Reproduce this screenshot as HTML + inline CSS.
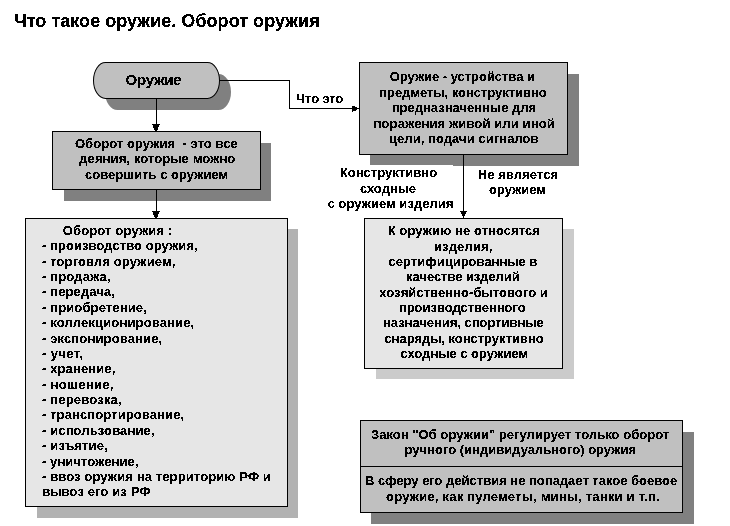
<!DOCTYPE html>
<html><head><meta charset="utf-8">
<style>
html,body{margin:0;padding:0;background:#fff;}
body{width:730px;height:526px;position:relative;overflow:hidden;font-family:"Liberation Sans",sans-serif;font-weight:bold;color:#000;}
.s{position:absolute;}
.k{position:absolute;border:1px solid #000;box-sizing:border-box;}
.x{position:absolute;white-space:pre;line-height:20px;}
.a{font-size:13px}.b{font-size:15px}.h{font-size:18px}
.l{position:absolute;background:#000;}
svg{position:absolute;left:0;top:0;}
</style></head><body>
<!-- shadows -->
<div class="s" style="left:105px;top:74px;width:126px;height:36px;background:#808080;border-radius:12.5px/18px;"></div>
<div class="s" style="left:64px;top:143px;width:207px;height:58px;background:#808080;"></div>
<div class="s" style="left:37px;top:229px;width:261px;height:289px;background:#b2b2b2;"></div>
<div class="s" style="left:370px;top:74px;width:209px;height:92px;background:#808080;"></div>
<div class="s" style="left:370px;top:165px;width:83px;height:1px;background:#fff;"></div>
<div class="s" style="left:376px;top:229px;width:198px;height:150px;background:#cbcbcb;"></div>
<div class="s" style="left:371px;top:432px;width:323px;height:92px;background:#808080;"></div>
<!-- boxes -->
<div class="k" style="left:93px;top:62px;width:127px;height:37px;background:#c0c0c0;border-radius:12.5px/18.5px;"></div>
<div class="k" style="left:52px;top:131px;width:209px;height:59px;background:#c0c0c0;"></div>
<div class="k" style="left:25px;top:218px;width:263px;height:289px;background:#e6e6e6;"></div>
<div class="k" style="left:359px;top:62px;width:209px;height:93px;background:#c0c0c0;"></div>
<div class="k" style="left:364px;top:218px;width:199px;height:151px;background:#e6e6e6;"></div>
<div class="k" style="left:360px;top:420px;width:323px;height:93px;background:#c0c0c0;"></div>
<div class="l" style="left:360px;top:466px;width:323px;height:1px;"></div>
<!-- connectors -->
<div class="l" style="left:156px;top:98px;width:1px;height:33px;"></div>
<div class="l" style="left:156px;top:189px;width:1px;height:29px;"></div>
<div class="l" style="left:219px;top:80px;width:71px;height:1px;"></div>
<div class="l" style="left:289px;top:80px;width:1px;height:29px;"></div>
<div class="l" style="left:289px;top:108px;width:70px;height:1px;"></div>
<div class="l" style="left:463px;top:154px;width:1px;height:64px;"></div>
<svg width="730" height="526" viewBox="0 0 730 526" shape-rendering="crispEdges">
<polygon points="152,124 160,124 157,131 155,131"/>
<polygon points="152,211 160,211 157,218 155,218"/>
<polygon points="460,211 467,211 463.5,218"/>
<polygon points="352,106 352,112 357,110 357,107"/>
</svg>
<!-- text -->
<svg width="0" height="0" style="position:absolute"><filter id="t" x="0" y="0" width="100%" height="100%" color-interpolation-filters="sRGB"><feComponentTransfer><feFuncA type="discrete" tableValues="0 0 1 1 1"/></feComponentTransfer></filter></svg>
<div id="tl" style="position:absolute;left:0;top:0;width:730px;height:526px;filter:url(#t);">
<div class="x h" style="left:14.0px;top:10.6px;letter-spacing:0.04px">Что такое оружие. Оборот оружия</div>
<div class="x b" style="left:125.6px;top:69.8px;letter-spacing:-0.28px">Оружие</div>
<div class="x a" style="left:296.1px;top:88.7px;letter-spacing:-0.133px">Что это</div>
<div class="x a" style="left:74.9px;top:133.9px;letter-spacing:0.053px">Оборот оружия  - это все</div>
<div class="x a" style="left:79.2px;top:149.4px;letter-spacing:0.11px">деяния, которые можно</div>
<div class="x a" style="left:85.0px;top:165.0px;letter-spacing:0.022px">совершить с оружием</div>
<div class="x a" style="left:62.7px;top:221.0px;letter-spacing:0.157px">Оборот оружия :</div>
<div class="x a" style="left:42.0px;top:236.37px;letter-spacing:0.067px">- производство оружия,</div>
<div class="x a" style="left:42.0px;top:251.74px;letter-spacing:0.123px">- торговля оружием,</div>
<div class="x a" style="left:42.0px;top:267.11px;letter-spacing:0.156px">- продажа,</div>
<div class="x a" style="left:42.0px;top:282.48px;letter-spacing:0.12px">- передача,</div>
<div class="x a" style="left:42.0px;top:297.85px;letter-spacing:0.129px">- приобретение,</div>
<div class="x a" style="left:42.0px;top:313.22px;letter-spacing:0.14px">- коллекционирование,</div>
<div class="x a" style="left:42.0px;top:328.59px;letter-spacing:0.137px">- экспонирование,</div>
<div class="x a" style="left:42.0px;top:343.96px;letter-spacing:0.4px">- учет,</div>
<div class="x a" style="left:42.0px;top:359.33px;letter-spacing:0.12px">- хранение,</div>
<div class="x a" style="left:42.0px;top:374.7px;letter-spacing:0.333px">- ношение,</div>
<div class="x a" style="left:42.0px;top:390.07px;letter-spacing:0.181px">- перевозка,</div>
<div class="x a" style="left:42.0px;top:405.44px;letter-spacing:0.105px">- транспортирование,</div>
<div class="x a" style="left:42.0px;top:420.81px;letter-spacing:0.12px">- использование,</div>
<div class="x a" style="left:42.0px;top:436.18px;letter-spacing:0.156px">- изъятие,</div>
<div class="x a" style="left:42.0px;top:451.55px;letter-spacing:0.077px">- уничтожение,</div>
<div class="x a" style="left:42.0px;top:466.92px;letter-spacing:0.116px">- ввоз оружия на территорию РФ и</div>
<div class="x a" style="left:42.3px;top:482.29px;letter-spacing:0.115px">вывоз его из РФ</div>
<div class="x a" style="left:389.8px;top:67.4px;letter-spacing:-0.04px">Оружие - устройства и</div>
<div class="x a" style="left:379.2px;top:82.77px;letter-spacing:-0.018px">предметы, конструктивно</div>
<div class="x a" style="left:391.7px;top:98.14px;letter-spacing:0.011px">предназначенные для</div>
<div class="x a" style="left:373.6px;top:113.51px;letter-spacing:0.113px">поражения живой или иной</div>
<div class="x a" style="left:389.0px;top:128.88px;letter-spacing:0.06px">цели, подачи сигналов</div>
<div class="x a" style="left:387.8px;top:221.3px;letter-spacing:0.07px">К оружию не относятся</div>
<div class="x a" style="left:433.9px;top:236.64px;letter-spacing:0.172px">изделия,</div>
<div class="x a" style="left:388.6px;top:251.98px;letter-spacing:0.012px">сертифицированные в</div>
<div class="x a" style="left:406.1px;top:267.32px;letter-spacing:-0.053px">качестве изделий</div>
<div class="x a" style="left:379.3px;top:282.66px;letter-spacing:0.064px">хозяйственно-бытового и</div>
<div class="x a" style="left:398.9px;top:298.0px;letter-spacing:-0.038px">производственного</div>
<div class="x a" style="left:383.0px;top:313.34px;letter-spacing:-0.028px">назначения, спортивные</div>
<div class="x a" style="left:384.4px;top:328.68px;letter-spacing:-0.019px">снаряды, конструктивно</div>
<div class="x a" style="left:400.5px;top:344.02px">сходные с оружием</div>
<div class="x a" style="left:371.0px;top:424.8px;letter-spacing:0.039px">Закон &quot;Об оружии&quot; регулирует только оборот</div>
<div class="x a" style="left:404.6px;top:440.3px;letter-spacing:0.006px">ручного (индивидуального) оружия</div>
<div class="x a" style="left:364.9px;top:471.4px;letter-spacing:-0.005px">В сферу его действия не попадает такое боевое</div>
<div class="x a" style="left:386.1px;top:486.9px;letter-spacing:0.205px">оружие, как пулеметы, мины, танки и т.п.</div>
<div class="x a" style="left:339.8px;top:162.9px;letter-spacing:0.033px">Конструктивно</div>
<div class="x a" style="left:359.9px;top:178.6px">сходные</div>
<div class="x a" style="left:327.7px;top:193.6px;letter-spacing:0.025px">с оружием изделия</div>
<div class="x a" style="left:477.7px;top:164.8px;letter-spacing:0.08px">Не является</div>
<div class="x a" style="left:489.0px;top:180.2px">оружием</div>
</div>
</body></html>
